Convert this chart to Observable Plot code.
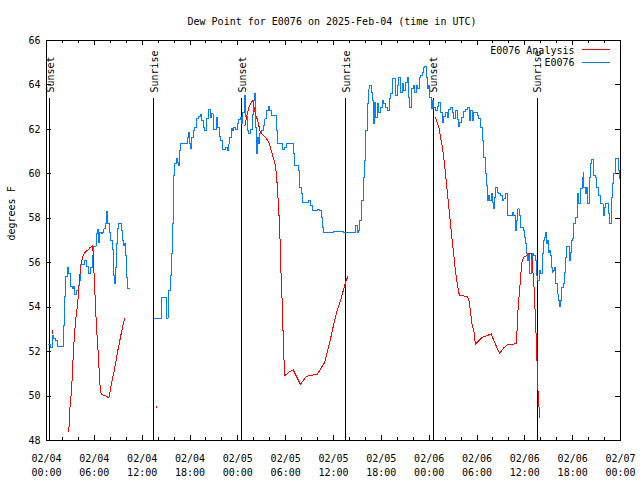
<!DOCTYPE html>
<html><head><meta charset="utf-8">
<script src="https://cdn.jsdelivr.net/npm/d3@7"></script>
<script src="https://cdn.jsdelivr.net/npm/@observablehq/plot@0.6"></script>
<style>body{margin:0;background:#fff} svg{display:block} svg path, svg line{shape-rendering:crispEdges}</style>
</head><body><div id="chart"></div><script>
const START = Date.UTC(2025, 1, 4);
const TITLE = "Dew Point for E0076 on 2025-Feb-04 (time in UTC)";
const Y_LABEL = "degrees F";
const SERIES_NAMES = ["E0076 Analysis", "E0076"];
const SERIES_COLORS = ["#ff0000", "#0080ff"];

// E0076 observed (hours since 02/04 00:00 UTC, °F); NaN = gap
const obsHours = [0.29,0.5,0.71,0.92,1.13,1.42,1.84,2.09,2.17,2.3,2.42,2.59,2.8,3.01,3.22,3.34,3.51,3.76,3.97,4.1,4.26,4.6,4.77,5.02,5.31,5.52,5.77,5.94,6.23,6.35,6.52,6.69,6.9,7.0,7.19,7.36,7.53,7.69,7.86,8.03,8.24,8.45,8.57,8.66,8.78,8.86,9.07,9.28,9.41,9.53,9.7,9.78,9.91,10.03,10.12,10.37,
12,
13.55,14.43,14.47,14.72,15.05,15.25,15.35,15.5,15.65,15.77,15.89,15.97,16.1,16.31,16.47,16.6,16.72,16.85,17.44,17.65,17.78,17.9,18.06,18.2,18.4,18.57,18.82,19.1,19.32,19.45,19.65,19.86,20.07,20.36,20.57,20.7,20.9,21.1,21.32,21.49,21.65,21.74,21.83,22.04,22.46,22.67,22.88,23.0,23.17,23.38,23.5,23.71,23.92,24.13,24.34,24.46,24.63,24.84,24.96,25.17,25.38,25.59,25.8,26.0,26.13,26.22,26.34,26.5,26.63,26.76,26.97,27.18,27.39,27.6,27.81,28.01,28.22,28.6,28.85,29.02,29.44,29.65,29.86,30.1,30.6,30.81,30.94,31.15,31.44,31.57,31.78,31.95,32.11,32.61,32.9,33.12,33.37,33.74,33.95,34.28,34.45,34.58,34.7,36.04,37.29,38.55,38.76,38.97,39.18,39.3,39.51,39.72,39.89,40.02,40.22,40.43,40.56,40.73,40.85,40.98,41.1,41.27,41.48,41.69,41.9,42.11,42.32,42.53,42.73,42.99,43.15,43.36,43.57,43.78,43.99,44.2,44.4,44.61,44.82,45.03,45.24,45.45,45.58,45.75,46.0,46.16,46.41,46.58,46.83,46.91,47.13,47.25,47.46,47.63,47.75,47.96,48.09,48.26,48.43,48.59,48.8,49.01,49.22,49.43,49.64,49.85,50.05,50.26,50.47,50.68,50.89,51.1,51.31,51.52,51.64,51.85,52.06,52.27,52.56,52.85,53.02,53.19,53.4,53.6,53.81,54.02,54.23,54.44,54.65,54.86,55.07,55.19,55.36,55.48,55.61,55.78,55.9,56.03,56.2,56.36,56.53,56.74,56.95,57.16,57.37,57.58,57.79,57.87,58.2,58.42,58.62,58.79,58.95,59.12,59.29,59.46,59.63,59.79,59.96,60.13,60.21,60.38,60.5,60.63,60.8,60.96,61.13,61.34,61.46,61.63,61.8,61.97,62.18,62.3,62.47,62.6,62.72,62.85,62.97,63.06,63.18,63.31,63.43,63.56,63.73,63.9,64.06,64.17,64.35,64.48,64.64,64.89,64.98,65.1,65.23,65.52,65.65,65.73,65.86,65.94,66.15,66.36,66.57,66.78,66.98,67.2,67.32,67.4,67.57,67.74,67.9,68.07,68.24,68.41,68.57,68.66,68.83,68.99,69.28,69.49,69.7,69.82,69.99,70.16,70.32,70.49,70.65,70.82,70.99,71.16,71.37,71.66,71.79,71.92];
const obsValues = [52.32,52.17,52.72,52.6,52.5,52.23,52.23,52.5,53.17,54.5,55.38,55.77,55.5,54.93,54.83,54.93,54.55,54.75,54.97,55.2,55.92,55.92,56.1,55.83,55.5,55.8,56.32,56.75,57.3,57.48,56.92,57.37,57.3,57.37,57.52,57.78,58.32,57.76,57.37,57.0,56.6,55.43,55.05,55.8,56.85,57.52,57.75,57.75,57.45,57.0,56.77,56.85,56.32,55.35,54.83,54.83,
NaN,
53.5,53.5,54.42,54.42,53.5,54.2,54.75,55.43,56.4,57.75,58.87,59.92,60.45,60.67,60.52,60.37,61.05,61.35,61.38,61.65,61.87,61.35,61.12,61.65,61.95,62.1,62.47,62.57,62.66,62.42,62.1,61.95,62.47,62.88,62.52,62.7,61.98,62.0,62.52,62.1,61.98,61.68,61.5,61.08,61.2,61.05,61.35,61.62,62.02,61.95,62.1,61.98,62.25,62.43,62.55,62.25,62.77,63.52,62.6,61.95,61.8,62.0,62.67,63.3,63.63,62.1,60.9,61.65,61.35,61.8,61.95,62.17,62.47,62.85,63.03,62.85,62.62,62.62,61.95,61.35,61.35,61.08,61.2,61.35,61.38,61.35,60.9,60.37,60.37,60.15,59.4,59.1,58.72,58.72,58.8,58.57,58.35,58.35,58.38,58.35,58.05,57.6,57.37,57.42,57.37,57.37,57.67,57.37,57.45,57.9,58.8,59.85,60.6,61.95,63.15,63.82,63.97,63.67,63.3,62.25,63.22,62.55,63.15,62.77,63.0,63.3,63.15,63.0,62.85,63.37,63.6,64.27,64.27,63.52,63.97,64.35,63.67,64.05,63.75,64.12,64.35,63.45,63.0,63.82,63.97,63.67,63.97,63.82,64.35,64.42,64.57,64.8,64.83,64.35,63.82,63.97,63.45,62.92,63.3,63.0,62.85,63.03,63.22,62.77,62.32,62.58,62.77,62.52,62.88,62.97,62.77,62.47,62.85,62.43,62.13,62.32,62.52,62.82,62.88,62.97,62.4,62.85,62.4,62.77,62.77,62.62,62.47,62.1,61.5,60.75,60.0,59.47,58.8,59.02,58.8,59.1,58.72,58.42,58.95,59.4,59.17,59.12,59.02,58.8,58.87,59.1,58.8,58.12,58.12,58.27,58.12,57.45,57.9,58.42,58.12,57.6,57.6,57.45,57.15,56.85,56.4,56.1,56.4,55.5,56.1,56.4,56.32,56.1,55.43,55.2,55.65,55.5,56.4,57.0,57.15,57.37,56.85,57.0,56.47,56.55,56.32,55.8,55.58,55.65,55.8,55.05,54.6,54.3,54.03,54.3,54.9,55.05,55.58,56.25,56.73,56.73,56.1,56.47,57.0,57.07,57.75,58.05,59.1,58.65,59.32,59.85,60.07,59.4,59.1,59.4,58.65,59.85,60.45,60.63,60.3,59.92,59.85,59.4,59.02,58.65,58.65,58.12,58.5,58.65,58.65,58.2,57.75,58.95,59.55,60.0,60.67,60.67,60.15,59.77];

// E0076 Analysis (hours since 02/04 00:00 UTC, °F); NaN = gap
const anaHours = [0.78,0.8,
1.5,
2.8,2.93,3.1,3.22,3.34,3.51,3.68,3.85,4.01,4.18,4.35,4.6,4.77,5.02,5.31,5.52,5.81,5.85,6.06,6.27,6.44,6.57,6.69,6.86,7.4,7.82,8.03,8.24,8.45,8.66,8.86,9.07,9.28,9.49,9.78,
11,
13.78,13.82,
20,
24.88,25.1,25.4,25.8,25.93,26.22,26.5,26.76,27.06,27.47,27.89,28.18,28.43,28.73,28.93,29.14,29.27,29.3,29.35,29.48,29.6,29.69,29.81,29.9,30.4,30.94,31.86,32.49,32.91,33.95,34.37,34.91,35.21,35.62,36.04,36.46,36.88,37.29,37.59,37.8,
43,
48.8,49.01,49.22,49.42,49.64,49.76,49.92,50.09,50.26,50.43,50.59,50.76,50.89,51.0,51.1,51.31,51.52,51.72,51.85,52.77,52.98,53.19,53.4,53.6,53.81,54.23,54.65,55.28,55.78,56.2,56.83,57.37,57.87,58.92,59.04,59.16,59.37,59.54,59.67,59.88,60.21,60.5,60.84,61.0,61.13,61.25,61.38,61.46,61.55,61.63,61.76,61.88];
const anaValues = [52.95,52.8,
NaN,
48.42,49.42,50.1,50.78,51.75,52.8,53.47,54.0,54.6,55.43,55.95,56.32,56.43,56.52,56.62,56.7,56.77,56.4,54.75,53.1,52.2,51.37,50.55,50.07,50.02,49.92,50.32,50.7,51.07,51.45,51.9,52.27,52.65,53.02,53.47,
NaN,
49.55,49.5,
NaN,
62.17,62.55,63.0,63.3,63.2,62.67,62.4,61.95,61.77,61.65,61.43,61.05,60.75,60.37,59.55,58.35,57.22,57.0,56.1,54.97,53.85,52.65,51.45,50.92,51.07,51.18,50.52,50.85,50.92,50.97,51.22,51.52,51.97,52.57,53.25,53.85,54.3,54.83,55.2,55.38,
NaN,
62.55,62.32,62.1,61.65,61.27,60.9,60.45,59.85,59.25,58.65,58.05,57.45,57.0,56.62,56.32,55.58,55.05,54.63,54.53,54.48,54.33,53.77,53.17,52.95,52.32,52.5,52.65,52.72,52.8,52.42,51.93,52.17,52.32,52.35,53.02,54.0,54.9,55.65,56.1,56.25,56.32,56.4,56.43,55.65,55.05,54.15,53.1,52.2,51.37,50.4,49.57,49.05];

// Sunrise / sunset markers
const eventHours = [0.42, 13.47, 24.45, 37.5, 48.5, 61.55];
const eventLabels = ["Sunset", "Sunrise", "Sunset", "Sunrise", "Sunset", "Sunrise"];

// Axis ticks
const xMajorHours = d3.range(0, 73, 6);
const xMinorHours = d3.range(0, 73, 2);
const yTicks = d3.range(48, 67, 2);

const toDate = h => new Date(START + h * 3600e3);
const obs = obsHours.map((h, i) => ({t: toDate(h), v: obsValues[i]}));
const ana = anaHours.map((h, i) => ({t: toDate(h), v: anaValues[i]}));
const events = eventHours.map((h, i) => ({t: toDate(h), label: eventLabels[i]}));
const xMajor = xMajorHours.map(toDate);
const xMinor = xMinorHours.map(toDate);

const font = "DejaVu Sans Mono";
const W = 640, H = 480, mL = 46, mR = 20, mT = 40, mB = 40;
const fh = H - mT - mB, fw = W - mL - mR;

const chart = Plot.plot({
  width: W, height: H,
  marginLeft: mL, marginRight: mR, marginTop: mT, marginBottom: mB,
  style: {fontFamily: font, fontSize: "10px", background: "white", color: "black"},
  x: {type: "utc", domain: [toDate(0), toDate(72)]},
  y: {domain: [48, 66]},
  marks: [
    Plot.tickX(xMajor, {x: d => d, insetTop: fh - 5, stroke: "black"}),
    Plot.tickX(xMajor, {x: d => d, insetBottom: fh - 5, stroke: "black"}),
    Plot.tickX(xMinor, {x: d => d, insetTop: fh - 3, stroke: "black"}),
    Plot.tickX(xMinor, {x: d => d, insetBottom: fh - 3, stroke: "black"}),
    Plot.tickY(yTicks, {y: d => d, insetRight: fw - 5, stroke: "black"}),
    Plot.tickY(yTicks, {y: d => d, insetLeft: fw - 5, stroke: "black"}),
    Plot.axisX(xMajor, {tickSize: 0, tickPadding: 12, tickFormat: d3.utcFormat("%m/%d\n%H:%M"), lineHeight: 1.35, label: null, fontSize: 10}),
    Plot.axisY(yTicks, {tickSize: 0, tickPadding: 6, tickFormat: d => String(d), label: null, fontSize: 10}),
    Plot.tickX(events, {x: "t", insetTop: 58, stroke: "black"}),
    Plot.text(events, {x: "t", text: "label", rotate: -90, textAnchor: "start", lineAnchor: "middle", frameAnchor: "top", dy: 52, dx: 1, fontSize: 10}),
    Plot.line(obs, {x: "t", y: "v", stroke: SERIES_COLORS[1], strokeWidth: 1, curve: "step-after"}),
    Plot.line(ana, {x: "t", y: "v", stroke: SERIES_COLORS[0], strokeWidth: 1}),
    Plot.frame({stroke: "black"}),
    Plot.text([TITLE], {frameAnchor: "top", dy: -19, dx: -1.5, lineAnchor: "middle", fontSize: 10}),
    Plot.text([Y_LABEL], {frameAnchor: "left", dx: -35, rotate: -90, fontSize: 10}),
    Plot.text([SERIES_NAMES[0]], {frameAnchor: "top-right", dx: -46, dy: 10.5, textAnchor: "end", lineAnchor: "middle", fontSize: 10}),
    Plot.text([SERIES_NAMES[1]], {frameAnchor: "top-right", dx: -46, dy: 22.5, textAnchor: "end", lineAnchor: "middle", fontSize: 10})
  ]
});

// legend line samples
const svg = d3.select(chart);
[[49.5, SERIES_COLORS[0]], [62.5, SERIES_COLORS[1]]].forEach(([y, c]) => {
  svg.append("line").attr("x1", 582).attr("x2", 610).attr("y1", y).attr("y2", y)
    .attr("stroke", c).attr("stroke-width", 1);
});
document.getElementById("chart").appendChild(chart);
</script></body></html>
